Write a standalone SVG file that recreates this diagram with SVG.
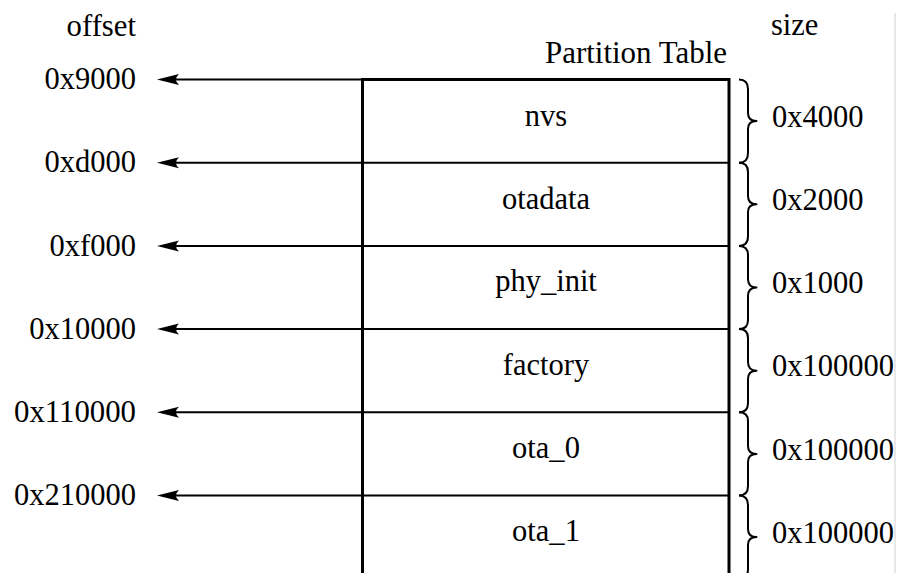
<svg xmlns="http://www.w3.org/2000/svg" width="897" height="573" viewBox="0 0 897 573">
<style>
text{font-family:"Liberation Serif","DejaVu Serif",serif;font-size:30.5px;fill:#000}
.off{text-anchor:end}
.lbl{text-anchor:middle}
.edge{stroke:#000;stroke-width:3;fill:none}
.brace{stroke:#000;stroke-width:2;fill:none;stroke-linejoin:round}
.arr{stroke:#000;stroke-width:2;fill:none;marker-end:url(#ah)}
</style>
<defs>
<marker id="ah" markerUnits="userSpaceOnUse" markerWidth="24" markerHeight="13" refX="17" refY="6" orient="auto" overflow="visible">
<path d="M22,6 L0,0.5 Q6,6 0,11.5 Z" fill="#000"/>
</marker>
</defs>
<rect x="0" y="0" width="897" height="573" fill="#fff"/>
<line x1="895" y1="13" x2="895" y2="573" stroke="#d0d0d0" stroke-width="1"/>
<text class="off" x="136" y="36" textLength="69.4" lengthAdjust="spacingAndGlyphs">offset</text>
<text x="771" y="35" textLength="47.4" lengthAdjust="spacingAndGlyphs">size</text>
<text class="off" x="727" y="63" textLength="182" lengthAdjust="spacingAndGlyphs">Partition Table</text>
<g id="table">
<path class="edge" d="M362.5,573 V79.5 H729 V573"/>
</g>
<g id="connectors">
<line class="arr" x1="729" y1="79.5" x2="162" y2="79.5"/>
<line class="arr" x1="729" y1="162.7" x2="162" y2="162.7"/>
<line class="arr" x1="729" y1="245.9" x2="162" y2="245.9"/>
<line class="arr" x1="729" y1="329.1" x2="162" y2="329.1"/>
<line class="arr" x1="729" y1="412.3" x2="162" y2="412.3"/>
<line class="arr" x1="729" y1="495.5" x2="162" y2="495.5"/>
</g>
<g id="nvs">
<text class="off" x="136" y="89" textLength="91.5" lengthAdjust="spacingAndGlyphs">0x9000</text>
<text class="lbl" x="546" y="126" textLength="42.4" lengthAdjust="spacingAndGlyphs">nvs</text>
<path class="brace" d="M739,79.5 Q748,79.5 748,89 L748,113 Q748,121 756.5,121 Q748,121 748,129 L748,153 Q748,162.7 739,162.7"/>
<text x="772" y="127" textLength="91.5" lengthAdjust="spacingAndGlyphs">0x4000</text>
</g>
<g id="otadata">
<text class="off" x="136" y="172" textLength="91.5" lengthAdjust="spacingAndGlyphs">0xd000</text>
<text class="lbl" x="546" y="209" textLength="88.1" lengthAdjust="spacingAndGlyphs">otadata</text>
<path class="brace" d="M739,162.7 Q748,162.7 748,172 L748,196 Q748,204.3 756.5,204.3 Q748,204.3 748,212 L748,236 Q748,245.9 739,245.9"/>
<text x="772" y="210" textLength="91.5" lengthAdjust="spacingAndGlyphs">0x2000</text>
</g>
<g id="phy_init">
<text class="off" x="136" y="255.5" textLength="86.4" lengthAdjust="spacingAndGlyphs">0xf000</text>
<text class="lbl" x="546" y="291" textLength="101.7" lengthAdjust="spacingAndGlyphs">phy_init</text>
<path class="brace" d="M739,245.9 Q748,245.9 748,255 L748,279 Q748,287.5 756.5,287.5 Q748,287.5 748,296 L748,320 Q748,329.1 739,329.1"/>
<text x="772" y="293" textLength="91.5" lengthAdjust="spacingAndGlyphs">0x1000</text>
</g>
<g id="factory">
<text class="off" x="136" y="338.5" textLength="106.75" lengthAdjust="spacingAndGlyphs">0x10000</text>
<text class="lbl" x="546" y="375" textLength="86.4" lengthAdjust="spacingAndGlyphs">factory</text>
<path class="brace" d="M739,329.1 Q748,329.1 748,338 L748,362 Q748,370.7 756.5,370.7 Q748,370.7 748,379 L748,403 Q748,412.3 739,412.3"/>
<text x="772" y="376" textLength="122" lengthAdjust="spacingAndGlyphs">0x100000</text>
</g>
<g id="ota_0">
<text class="off" x="136" y="421.5" textLength="122" lengthAdjust="spacingAndGlyphs">0x110000</text>
<text class="lbl" x="546" y="458" textLength="67.8" lengthAdjust="spacingAndGlyphs">ota_0</text>
<path class="brace" d="M739,412.3 Q748,412.3 748,421 L748,446 Q748,453.9 756.5,453.9 Q748,453.9 748,462 L748,486 Q748,495.5 739,495.5"/>
<text x="772" y="460" textLength="122" lengthAdjust="spacingAndGlyphs">0x100000</text>
</g>
<g id="ota_1">
<text class="off" x="136" y="505" textLength="122" lengthAdjust="spacingAndGlyphs">0x210000</text>
<text class="lbl" x="546" y="541" textLength="67.8" lengthAdjust="spacingAndGlyphs">ota_1</text>
<path class="brace" d="M739,495.5 Q748,495.5 748,505 L748,529 Q748,537.1 756.5,537.1 Q748,537.1 748,545 L748,569 Q748,578.7 739,578.7"/>
<text x="772" y="543" textLength="122" lengthAdjust="spacingAndGlyphs">0x100000</text>
</g>
</svg>
